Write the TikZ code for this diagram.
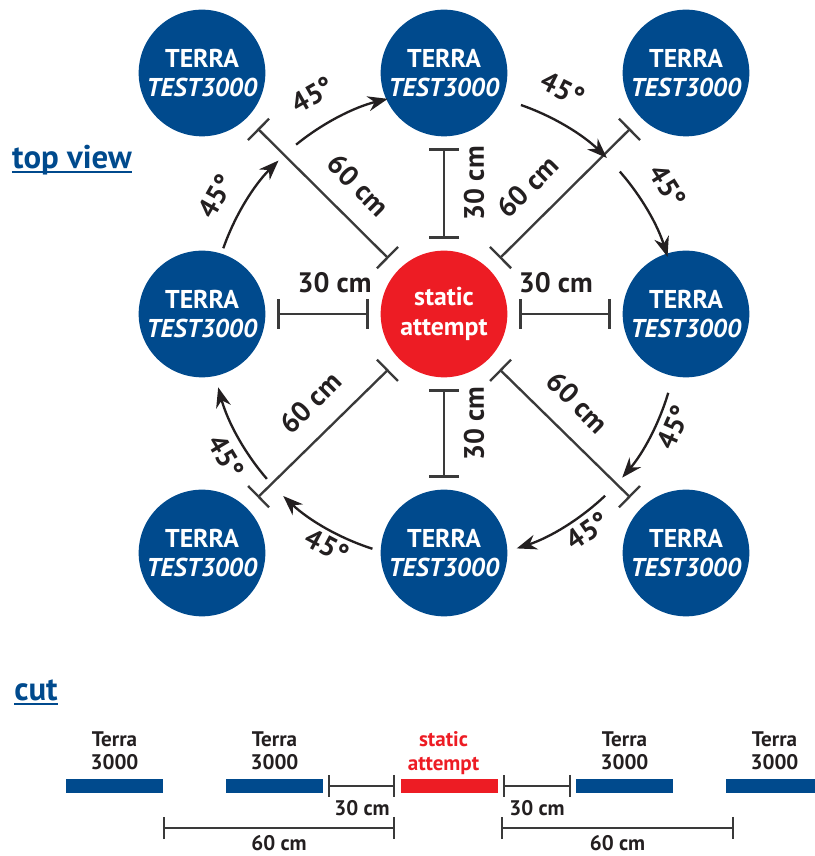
\documentclass[tikz,border=0pt]{standalone}
\usepackage{fontspec}
\setmainfont{PT Sans}
\usetikzlibrary{arrows.meta}
\usetikzlibrary{positioning}
\definecolor{terrablue}{RGB}{0,74,141}
\definecolor{attemptred}{RGB}{237,28,36}
\definecolor{ink}{RGB}{35,31,32}
\definecolor{dimgray}{RGB}{58,58,58}

\begin{document}
\begin{tikzpicture}[x=0.3mm, y=0.3mm,
    terra/.style={circle, fill=terrablue, text=white, minimum size=38mm, inner sep=0pt, outer sep=0pt,
      align=center, font=\bfseries\fontsize{22}{25.5}\selectfont},
    attempt/.style={terra, fill=attemptred},
    dim/.style={draw=dimgray, line width=0.7mm, {Bar[width=9mm]}-{Bar[width=9mm]}, shorten <=3.6mm, shorten >=3.6mm},
    diag/.style={dim, shorten <=4.6mm, shorten >=4.6mm},
    dimlabel/.style={text=ink, inner sep=0pt, font=\bfseries\fontsize{24}{27}\selectfont},
    turn/.style={draw=ink, line width=0.7mm, -{Stealth[length=6mm, width=4.5mm]}},
    heading/.style={text=terrablue, inner sep=0pt, font=\bfseries\fontsize{28}{32}\selectfont},
    bar/.style={minimum width=29.1mm, minimum height=4.2mm, inner sep=0pt, outer sep=0pt},
    cutdim/.style={draw=dimgray, line width=0.6mm, {Bar[width=6.6mm]}-{Bar[width=6.6mm]}},
    cutlabel/.style={text=ink, inner sep=0pt, align=center, font=\bfseries\fontsize{18}{20}\selectfont}]
  \useasboundingbox (0,0) rectangle (814,856);

  % top view
  \node[heading] (topview) at (72,696) {top view};
  \draw[terrablue, line width=0.6mm] ([yshift=-1.05mm]topview.base west) -- ([yshift=-1.05mm]topview.base east);

  \foreach \n/\x/\y in {tl/202/783, t/444/783, tr/686/783, l/202/542, r/686/542, bl/202/303, b/444/303, br/686/303}
    \node[terra] (\n) at (\x,\y) {TERRA\\\textit{TEST3000}};
  \node[attempt] (c) at (444,542) {static\\attempt};
  \coordinate (o) at (444,530);

  % distances
  \draw[dim] (c.north) -- (t.south) node[dimlabel, pos=0.59, xshift=9mm, rotate=90] {30 cm};
  \draw[dim] (c.south) -- (b.north) node[dimlabel, pos=0.41, xshift=9mm, rotate=90] {30 cm};
  \draw[dim] (c.west) -- (l.east) node[dimlabel, pos=0.4, yshift=9.3mm] {30 cm};
  \draw[dim] (c.east) -- (r.west) node[dimlabel, pos=0.42, yshift=9.3mm] {30 cm};
  \draw[diag] (c.north west) -- (tl.south east) node[dimlabel, pos=0.41, xshift=6.6mm, yshift=6.6mm, rotate=-45] {60 cm};
  \draw[diag] (c.north east) -- (tr.south west) node[dimlabel, pos=0.4, xshift=-6.6mm, yshift=6.6mm, rotate=45] {60 cm};
  \draw[diag] (c.south east) -- (br.north west) node[dimlabel, pos=0.44, xshift=6.6mm, yshift=6.6mm, rotate=-45] {60 cm};
  \draw[diag] (c.south west) -- (bl.north east) node[dimlabel, pos=0.44, xshift=-6.6mm, yshift=6.6mm, rotate=45] {60 cm};

  % turning steps
  \foreach \a/\b in {160.6/135, 129.2/103.9, 70.8/45.9, 41.3/17.2, -16.6/-40.4, -46.5/-71.9, -107.8/-133.4, -139.2/-164.8}
    \draw[turn] ([shift={(\a:234)}]o) arc[start angle=\a, end angle=\b, radius=234];
  \foreach \a/\r/\t [count=\i] in {150.4/262/60.4, 119.6/266/29.6, 63.4/265/-26.6, 32/264/-58, -23.8/251/66.2, -55/250/35, -118/249/-28, -149/254/-59}
    \node[dimlabel, rotate=\t] (angle\i) at ([shift={(\a:\r)}]o) {45°};

  % cut
  \node[heading] (cut) at (36,166) {cut};
  \draw[terrablue, line width=0.6mm] ([yshift=-1.05mm]cut.base west) -- ([yshift=-1.05mm]cut.base east);

  \node[bar, fill=terrablue] (bar1) at (114.5,70) {};
  \node[bar, fill=terrablue] (bar2) at (274.5,70) {};
  \node[bar, fill=attemptred] (bar3) at (449.5,70) {};
  \node[bar, fill=terrablue] (bar4) at (624.5,70) {};
  \node[bar, fill=terrablue] (bar5) at (774.5,70) {};
  \node[cutlabel, above=2.7mm of bar1] (name1) {Terra\\3000};
  \node[cutlabel, above=2.7mm of bar2] (name2) {Terra\\3000};
  \node[cutlabel, text=attemptred, above=1.3mm of bar3, xshift=-1.8mm] (name3) {static\\attempt};
  \node[cutlabel, above=2.7mm of bar4] (name4) {Terra\\3000};
  \node[cutlabel, above=2.7mm of bar5] (name5) {Terra\\3000};

  \draw[cutdim, shorten <=1.5mm, shorten >=1.8mm] (bar2.east) -- (bar3.west) node[cutlabel, midway, yshift=-6.6mm] {30 cm};
  \draw[cutdim, shorten <=1.5mm, shorten >=1.5mm] (bar3.east) -- (bar4.west) node[cutlabel, midway, yshift=-6.6mm] {30 cm};
  \draw[cutdim] ([yshift=-12.6mm]bar1.east) -- ([xshift=-1.8mm, yshift=-12.6mm]bar3.west) node[cutlabel, midway, yshift=-4.6mm] {60 cm};
  \draw[cutdim] ([xshift=0.9mm, yshift=-12.6mm]bar3.east) -- ([xshift=2.4mm, yshift=-12.6mm]bar5.west) node[cutlabel, midway, yshift=-4.6mm] {60 cm};
\end{tikzpicture}
\end{document}
